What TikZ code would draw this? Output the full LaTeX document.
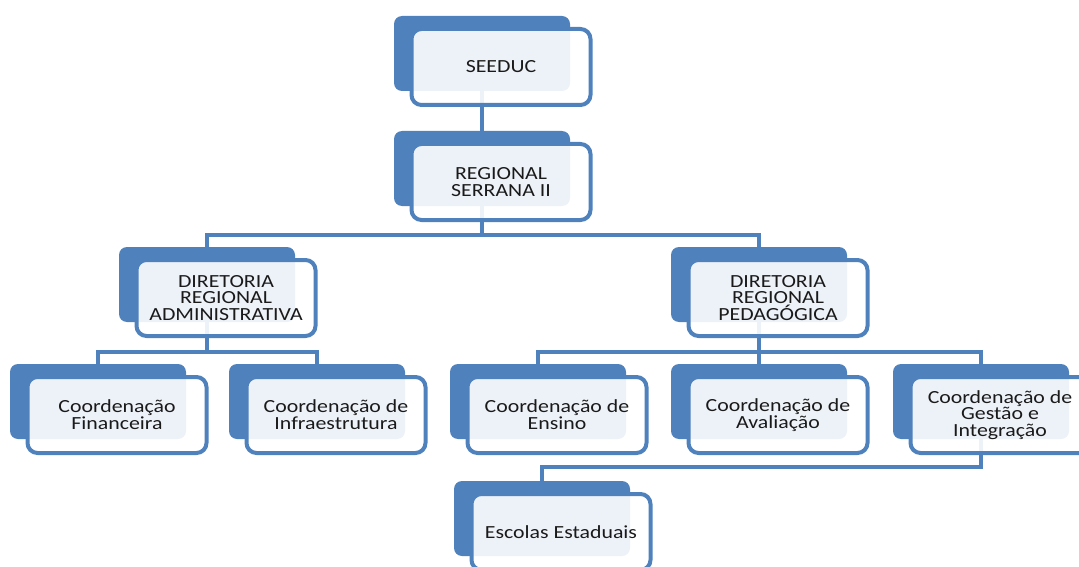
\documentclass[tikz,border=0pt]{standalone}
\usepackage{fontspec}
\setmainfont{Carlito}[FakeStretch=1.18]
\pgfdeclarelayer{bg}
\pgfdeclarelayer{links}
\pgfsetlayers{bg,links,main}
\definecolor{orgblue}{HTML}{4F81BD}
\definecolor{orgtext}{HTML}{1A1A1A}
\tikzset{
  backbox/.style={fill=orgblue,rounded corners=8pt,minimum width=176pt,minimum height=75pt,inner sep=0pt},
  frontbox/.style={draw=orgblue,line width=4pt,fill=white,fill opacity=0.9,text opacity=1,
    rounded corners=10pt,minimum width=179pt,minimum height=76pt,inner sep=0pt,
    align=center,text=orgtext,font=\fontsize{18.5}{16.8}\selectfont},
  link/.style={draw=orgblue,line width=4pt}
}
\begin{document}
\begin{tikzpicture}[x=1pt,y=-1pt]
\clip (0,0) rectangle (1079,567);
\useasboundingbox (0,0) rectangle (1079,567);
% front boxes
\node[frontbox] (seeduc)   at (501,67)  {SEEDUC};
\node[frontbox] (regional) at (501,182) {REGIONAL\\SERRANA II};
\node[frontbox] (admin)    at (226,298) {DIRETORIA\\REGIONAL\\ADMINISTRATIVA};
\node[frontbox] (pedag)    at (778,298) {DIRETORIA\\REGIONAL\\PEDAGÓGICA};
\node[frontbox] (fin)      at (117,415) {Coordenação\\Financeira};
\node[frontbox] (infra)    at (336,415) {Coordenação de\\Infraestrutura};
\node[frontbox] (ensino)   at (557,415) {Coordenação de\\Ensino};
\node[frontbox] (aval)     at (778,415) {Coordenação de\\Avaliação};
\node[frontbox] (gestao)   at (1000,415) {Coordenação de\\Gestão e\\Integração};
\node[frontbox] (escolas)  at (561,532) {Escolas Estaduais};
% back boxes
\begin{pgfonlayer}{bg}
\foreach \n in {seeduc,regional,admin,pedag,fin,infra,ensino,aval,gestao,escolas}
  \node[backbox] (\n-b) at ([shift={(-19,-13.5)}]\n) {};
\end{pgfonlayer}
% connectors
\begin{pgfonlayer}{links}
\coordinate (lvl1) at (0,235);
\coordinate (lvl2) at (0,352);
\coordinate (lvl3) at (0,467);
\draw[link] (seeduc-b.south) -- (regional-b.north);
\draw[link] (regional-b.south) -- (regional-b.south |- lvl1);
\draw[link] (admin-b.north) |- (lvl1 -| pedag-b) -- (pedag-b.north);
\draw[link] (admin-b.south) -- (admin-b.south |- lvl2);
\draw[link] (fin-b.north) |- (lvl2 -| infra-b) -- (infra-b.north);
\draw[link] (pedag-b.south) -- (aval-b.north);
\draw[link] (ensino-b.north) |- (lvl2 -| gestao-b) -- (gestao-b.north);
\draw[link] (gestao-b.south) |- (lvl3 -| escolas-b) -- (escolas-b.north);
\end{pgfonlayer}
\end{tikzpicture}
\end{document}
